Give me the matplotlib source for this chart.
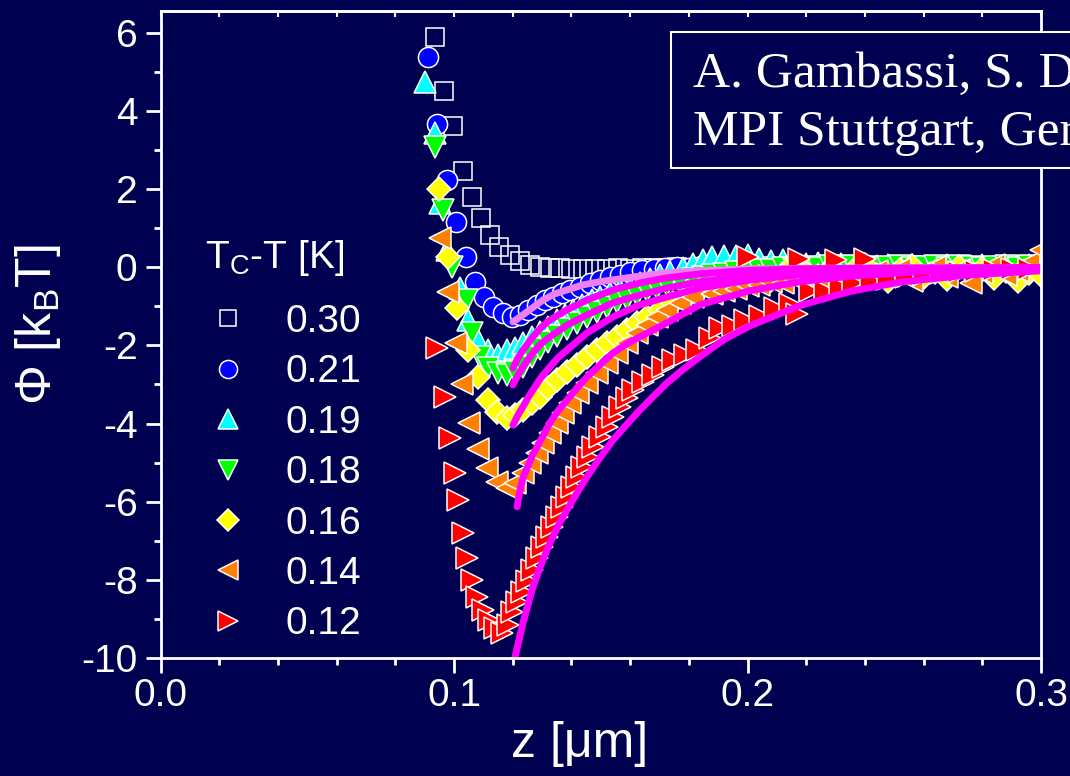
import matplotlib
matplotlib.use('Agg')
import matplotlib.pyplot as plt
from matplotlib.patches import Rectangle
from matplotlib.ticker import MultipleLocator

plt.rcParams['font.family'] = ['Liberation Sans', 'DejaVu Sans']
plt.rcParams['axes.unicode_minus'] = False
plt.rcParams['mathtext.default'] = 'regular'

# shared z grid of the flat tails (um)
tail_z = [0.188, 0.192, 0.196, 0.200, 0.204, 0.208, 0.212, 0.216, 0.220, 0.224,
          0.228, 0.232, 0.236, 0.240, 0.244, 0.248, 0.252, 0.256, 0.260, 0.264,
          0.268, 0.272, 0.276, 0.280, 0.284, 0.288, 0.292, 0.296, 0.300]

# Tc-T = 0.30 K
z030 = [0.0935, 0.0966, 0.0997, 0.1031, 0.1061, 0.1092, 0.1123, 0.1153, 0.1191, 0.1225,
        0.1259, 0.1293, 0.1327, 0.136, 0.140, 0.144, 0.148, 0.152, 0.156, 0.160,
        0.164, 0.168, 0.172, 0.176, 0.180, 0.184]
phi030 = [5.90, 4.52, 3.62, 2.47, 1.80, 1.26, 0.83, 0.52, 0.31, 0.16,
          0.06, 0.01, -0.02, -0.03, -0.04, -0.05, -0.04, -0.05, -0.03, -0.04,
          -0.02, -0.03, -0.01, 0.00, -0.02, 0.01]
tail030 = [0.02, -0.01, 0.03, 0.00, 0.02, -0.02, 0.01, 0.03, 0.00, -0.03, 0.02, 0.01, -0.02, 0.04, 0.00,
           -0.01, 0.02, 0.05, -0.03, 0.01, 0.03, -0.02, 0.00, 0.04, -0.04, 0.02, 0.01, -0.01, 0.03]

# Tc-T = 0.21 K
z021 = [0.0911, 0.0942, 0.0976, 0.1007, 0.1041, 0.1072, 0.1102, 0.1133, 0.1167, 0.1197,
        0.1225, 0.1252, 0.1283, 0.1310, 0.1337, 0.1368, 0.1395, 0.1429, 0.1463, 0.1497,
        0.1531, 0.1565, 0.1600, 0.1640, 0.1680, 0.1720, 0.1760, 0.1800, 0.1840]
phi021 = [5.39, 3.67, 2.24, 1.16, 0.27, -0.37, -0.76, -1.01, -1.17, -1.27,
          -1.22, -1.09, -0.96, -0.84, -0.76, -0.66, -0.58, -0.50, -0.40, -0.32,
          -0.25, -0.19, -0.12, -0.07, -0.04, -0.02, 0.01, -0.01, 0.02]
tail021 = [0.00, 0.03, 0.01, -0.02, 0.02, 0.04, 0.00, 0.01, -0.03, 0.02, 0.03, 0.00, -0.01, 0.02, 0.04,
           0.01, -0.02, 0.00, 0.03, 0.01, 0.02, -0.03, 0.00, 0.04, 0.01, -0.01, 0.02, 0.00, 0.03]

# Tc-T = 0.19 K
z019 = [0.0901, 0.0935, 0.0952, 0.0976, 0.1020, 0.1048, 0.1082, 0.1116, 0.1150, 0.1181,
        0.1208, 0.1235, 0.1266, 0.1293, 0.1320, 0.1351, 0.1378, 0.1405, 0.1436, 0.1470,
        0.1497, 0.1531, 0.1565, 0.1600, 0.1634, 0.1668, 0.1702, 0.1736, 0.1780, 0.1814, 0.1850]
phi019 = [4.75, 3.44, 1.65, 0.44, -0.53, -1.35, -1.86, -2.12, -2.24, -2.12,
          -2.06, -1.94, -1.78, -1.65, -1.53, -1.35, -1.22, -1.09, -0.96, -0.84,
          -0.76, -0.66, -0.58, -0.50, -0.40, -0.30, -0.20, -0.12, -0.02, 0.08, 0.18]
tail019 = [0.25, 0.30, 0.28, 0.31, 0.22, 0.15, 0.18, 0.10, 0.08, 0.12, 0.05, 0.09, 0.04, 0.07, 0.02,
           0.06, 0.03, 0.05, 0.01, 0.04, 0.06, 0.02, 0.03, 0.05, 0.00, 0.04, 0.02, 0.06, -0.05]

# Tc-T = 0.18 K
z018 = [0.0935, 0.0962, 0.0993, 0.1044, 0.1061, 0.1089, 0.1116, 0.1150, 0.1181, 0.1208,
        0.1235, 0.1266, 0.1293, 0.1320, 0.1351, 0.1385, 0.1419, 0.1453, 0.1487, 0.1521,
        0.1555, 0.1589, 0.1624, 0.1658, 0.1692, 0.1726, 0.1770, 0.1814, 0.1850]
phi018 = [3.08, 1.47, 0.01, -0.84, -1.68, -2.29, -2.58, -2.70, -2.75, -2.68,
          -2.55, -2.30, -2.10, -1.92, -1.75, -1.58, -1.43, -1.28, -1.15, -1.02,
          -0.90, -0.80, -0.70, -0.61, -0.53, -0.46, -0.38, -0.30, -0.24]
tail018 = [-0.20, -0.16, -0.12, -0.10, -0.06, -0.08, -0.03, -0.05, 0.00, -0.02, 0.03, -0.01, 0.02, 0.00, -0.03,
           0.01, 0.03, -0.02, 0.00, 0.02, -0.01, 0.04, 0.00, -0.02, 0.01, 0.03, -0.01, 0.02, 0.00]

# Tc-T = 0.16 K
z016 = [0.0949, 0.0980, 0.1010, 0.1048, 0.1082, 0.1116, 0.1147, 0.1181, 0.1208, 0.1235,
        0.1266, 0.1293, 0.1320, 0.1351, 0.1385, 0.1419, 0.1453, 0.1487, 0.1521, 0.1555,
        0.1589, 0.1624, 0.1658, 0.1702, 0.1746, 0.1794, 0.1838]
phi016 = [2.00, 0.27, -1.04, -2.12, -2.81, -3.40, -3.70, -3.86, -3.78, -3.65,
          -3.47, -3.32, -3.09, -2.88, -2.68, -2.50, -2.29, -2.12, -1.94, -1.78,
          -1.60, -1.42, -1.27, -1.09, -0.91, -0.76, -0.58]
tail016 = [-0.50, -0.42, -0.38, -0.30, -0.25, -0.32, -0.18, 0.12, -0.15, -0.22, -0.05, -0.30, -0.10, 0.05, -0.20,
           -0.35, -0.08, 0.02, -0.25, -0.12, -0.30, 0.00, -0.18, -0.05, -0.28, -0.10, -0.35, -0.15, -0.20]

# Tc-T = 0.14 K
z014 = [0.0954, 0.0980, 0.1007, 0.1027, 0.1051, 0.1082, 0.1112, 0.1146, 0.1180, 0.1208,
        0.1235, 0.1259, 0.1283, 0.1303, 0.1327, 0.1351, 0.1371, 0.1395, 0.1422, 0.1453,
        0.1487, 0.1521, 0.1555, 0.1589, 0.1624, 0.1658, 0.1692, 0.1726, 0.1770, 0.1814]
phi014 = [0.75, -0.63, -1.94, -2.99, -3.98, -4.65, -5.14, -5.50, -5.65, -5.52,
          -5.26, -5.01, -4.75, -4.50, -4.24, -3.98, -3.73, -3.47, -3.22, -2.96,
          -2.70, -2.45, -2.19, -1.94, -1.68, -1.48, -1.27, -1.09, -0.91, -0.76]
tail014 = [-0.68, -0.60, -0.55, -0.48, -0.45, -0.38, -0.40, -0.30, -0.25, -0.35, -0.20, -0.28, -0.15, -0.30, -0.10,
           -0.22, -0.05, -0.35, -0.12, 0.00, -0.25, -0.08, -0.40, -0.15, 0.05, -0.20, -0.10, 0.10, 0.45]

# Tc-T = 0.12 K
z012 = [0.0942, 0.0969, 0.0986, 0.1003, 0.1014, 0.1031, 0.1044, 0.1061, 0.1078, 0.1099,
        0.1119, 0.1140, 0.1163, 0.1184, 0.1197, 0.1215, 0.1231, 0.1249, 0.1266, 0.1283,
        0.1300, 0.1317, 0.1334, 0.1351, 0.1368, 0.1385, 0.1402, 0.1419, 0.1436, 0.1457,
        0.1474, 0.1497, 0.1521, 0.1542, 0.1566, 0.1589, 0.1610, 0.1644, 0.1678, 0.1712,
        0.1746, 0.1787, 0.1828, 0.1872, 0.1906, 0.1950, 0.1991, 0.2000, 0.2042, 0.2093,
        0.2144, 0.2168, 0.2175, 0.2212, 0.2263, 0.2300, 0.2314, 0.2360, 0.2400, 0.2420,
        0.2480, 0.2540, 0.2600, 0.2660, 0.2720, 0.2780, 0.2840, 0.2900, 0.2960]
phi012 = [-2.06, -3.32, -4.37, -5.26, -5.96, -6.80, -7.44, -8.00, -8.44, -8.77,
          -9.03, -9.23, -9.36, -9.16, -8.82, -8.57, -8.31, -8.03, -7.75, -7.44,
          -7.16, -6.90, -6.65, -6.39, -6.14, -5.88, -5.62, -5.37, -5.11, -4.86,
          -4.60, -4.34, -4.09, -3.83, -3.58, -3.34, -3.14, -2.93, -2.76, -2.55,
          -2.37, -2.24, -2.12, -1.80, -1.55, -1.50, -1.35, 0.25, -1.25, -1.05,
          -0.95, -1.20, 0.22, -0.60, -0.62, 0.18, -0.50, -0.40, 0.20, -0.35,
          -0.30, -0.25, -0.20, -0.15, -0.12, -0.10, -0.08, -0.05, -0.05]

# fitted curves
fit021_z = [0.1201, 0.1225, 0.1249, 0.1276, 0.1303, 0.1344, 0.1385, 0.1440, 0.1497, 0.1610,
            0.1726, 0.1838, 0.2008, 0.2349, 0.3000]
fit021_phi = [-1.40, -1.27, -1.14, -0.99, -0.84, -0.68, -0.58, -0.45, -0.37, -0.25,
              -0.14, -0.09, -0.04, -0.02, 0.00]
fit019_z = [0.1201, 0.1218, 0.1235, 0.1269, 0.1296, 0.1327, 0.1385, 0.1453, 0.1542, 0.1634,
            0.1726, 0.1838, 0.2008, 0.2179, 0.2520, 0.3000]
fit019_phi = [-2.58, -2.32, -2.12, -1.78, -1.55, -1.35, -1.09, -0.84, -0.58, -0.40,
              -0.27, -0.17, -0.08, -0.04, -0.02, -0.01]
fit018_z = [0.1201, 0.1218, 0.1235, 0.1252, 0.1269, 0.1296, 0.1327, 0.1385, 0.1453, 0.1542,
            0.1634, 0.1726, 0.1838, 0.2008, 0.2179, 0.2520, 0.3000]
fit018_phi = [-3.01, -2.76, -2.55, -2.37, -2.19, -1.96, -1.78, -1.48, -1.22, -0.91,
              -0.71, -0.53, -0.37, -0.21, -0.12, -0.04, -0.01]
fit016_z = [0.1201, 0.1218, 0.1235, 0.1252, 0.1269, 0.1296, 0.1327, 0.1354, 0.1385, 0.1453,
            0.1542, 0.1634, 0.1726, 0.1838, 0.2008, 0.2179, 0.2520, 0.3000]
fit016_phi = [-4.04, -3.78, -3.57, -3.34, -3.14, -2.83, -2.55, -2.32, -2.12, -1.68,
              -1.27, -0.96, -0.76, -0.53, -0.33, -0.19, -0.07, -0.02]
fit014_z = [0.1215, 0.1225, 0.1235, 0.1249, 0.1266, 0.1283, 0.1303, 0.1327, 0.1354, 0.1385,
            0.1419, 0.1453, 0.1497, 0.1542, 0.1589, 0.1634, 0.1726, 0.1838, 0.2008, 0.2179,
            0.2349, 0.2578, 0.3000]
fit014_phi = [-6.13, -5.70, -5.39, -5.14, -4.83, -4.60, -4.32, -3.98, -3.68, -3.40,
              -3.09, -2.81, -2.50, -2.19, -1.96, -1.78, -1.42, -0.96, -0.60, -0.37,
              -0.23, -0.12, -0.04]
fit012_z = [0.1201, 0.1235, 0.1269, 0.1300, 0.1327, 0.1356, 0.1385, 0.1419, 0.1453, 0.1497,
            0.1542, 0.1589, 0.1634, 0.1680, 0.1726, 0.1780, 0.1838, 0.1920, 0.2008, 0.2179,
            0.2349, 0.2520, 0.2749, 0.3000]
fit012_phi = [-10.2, -9.10, -8.18, -7.55, -7.06, -6.60, -6.21, -5.78, -5.37, -4.88,
              -4.42, -4.02, -3.65, -3.30, -2.96, -2.62, -2.29, -1.85, -1.50, -0.98,
              -0.62, -0.38, -0.20, -0.09]

labels = ['0.30', '0.21', '0.19', '0.18', '0.16', '0.14', '0.12']

bg = '#000050'
fig = plt.figure(figsize=(10.7, 7.76), dpi=100, facecolor=bg)
ax = fig.add_axes([0.15, 0.1521, 0.8229, 0.8338], facecolor=bg)

data = [
    (z030 + tail_z, phi030 + tail030, 's', 'none', 13.5),
    (z021 + tail_z, phi021 + tail021, 'o', '#0000ff', 14.5),
    (z019 + tail_z, phi019 + tail019, '^', '#00ffff', 16),
    (z018 + tail_z, phi018 + tail018, 'v', '#00ff00', 16),
    (z016 + tail_z, phi016 + tail016, 'D', '#ffff00', 12.5),
    (z014 + tail_z, phi014 + tail014, '<', '#ff8000', 16),
    (z012, phi012, '>', '#ff0000', 16),
]
for lab, (z, phi, mk, col, ms) in zip(labels, data):
    ax.plot(z, phi, ls='none', marker=mk, ms=ms, mfc=col, mec='white', mew=1.1, label=lab)

ax.plot(fit021_z, fit021_phi, color='#f080f0', lw=5, solid_capstyle='round')
for fz, fp in [(fit019_z, fit019_phi), (fit018_z, fit018_phi), (fit016_z, fit016_phi),
               (fit014_z, fit014_phi), (fit012_z, fit012_phi)]:
    ax.plot(fz, fp, color='#ff00ff', lw=5, solid_capstyle='round')

ax.set_xlim(0, 0.3)
ax.set_ylim(-10, 6.56)
ax.set_xticks([0.0, 0.1, 0.2, 0.3])
ax.xaxis.set_minor_locator(MultipleLocator(0.02))
ax.set_yticks(range(-10, 7, 2))
ax.yaxis.set_minor_locator(MultipleLocator(1))
for s in ax.spines.values():
    s.set_color('white')
    s.set_linewidth(2)
ax.tick_params(which='both', direction='out', colors='white', width=2)
ax.tick_params(which='major', length=10.5, labelsize=28)
ax.tick_params(which='minor', length=5)
ax.tick_params(axis='x', which='major', pad=4)
ax.tick_params(axis='y', which='major', pad=6)

top = ax.secondary_xaxis('top')
top.set_xticks([0.02 * i for i in range(16)])
top.tick_params(direction='in', length=4, width=1.5, colors='white', labeltop=False)
top.spines['top'].set_color('white')
top.spines['top'].set_linewidth(2)

ax.set_xlabel('z [μm]', fontsize=36, color='white')
ax.xaxis.set_label_coords(0.476, -0.097)
ax.set_ylabel('Φ [k$_B$T]', fontsize=36, color='white')
ax.yaxis.set_label_coords(-0.111, 0.515)

leg = ax.legend(loc='upper left', bbox_to_anchor=(0.055, 0.547),
                frameon=False, fontsize=28, labelcolor='white',
                handlelength=1.0, handletextpad=0.97, labelspacing=0.37,
                borderpad=0, borderaxespad=0, markerscale=0.9, numpoints=1)
fig.text(205 / 1070, (776 - 268) / 776, 'T$_C$-T [K]', fontsize=28, color='white', va='baseline')

box = Rectangle((671 / 1070, (776 - 168) / 776), 0.5, 136 / 776, transform=fig.transFigure,
                facecolor=bg, edgecolor='white', lw=1.5, zorder=5)
fig.add_artist(box)
fig.text(693 / 1070, (776 - 87) / 776, 'A. Gambassi, S. Dietrich', fontsize=37,
         family='Liberation Serif', color='white', va='baseline', zorder=6)
fig.text(693 / 1070, (776 - 145) / 776, 'MPI Stuttgart, Germany', fontsize=37,
         family='Liberation Serif', color='white', va='baseline', zorder=6)

fig.savefig('out.png', dpi=100, facecolor=bg)
